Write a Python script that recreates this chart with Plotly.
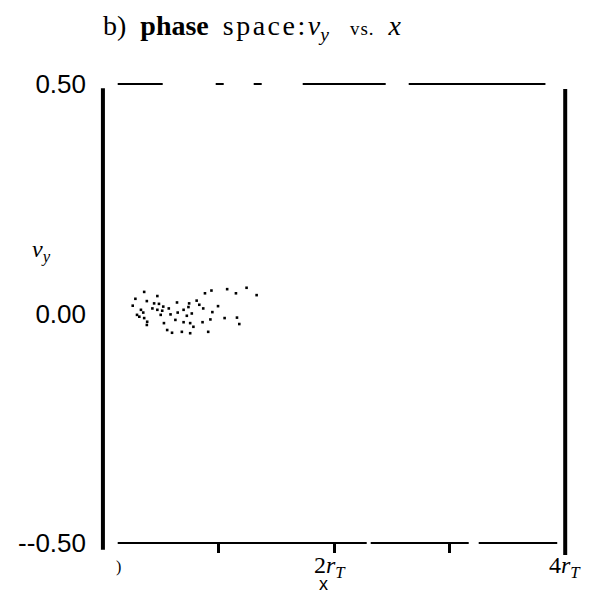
import plotly.graph_objects as go

# Scatter cloud (x in units of r_T, v_y)
x_vals = [0.357, 0.471, 0.281, 0.380, 0.883, 0.939, 1.075, 1.151, 1.243, 1.330,
          0.443, 0.485, 0.522, 0.641, 0.746, 0.811, 0.834, 0.258, 0.329, 0.349,
          0.428, 0.471, 0.513, 0.570, 0.647, 0.698, 0.740, 0.868, 0.996, 0.947,
          0.295, 0.357, 0.500, 0.585, 0.627, 0.726, 0.769, 0.930, 1.053, 1.160,
          1.180, 0.380, 0.528, 0.698, 0.755, 0.862, 0.556, 0.683, 0.755, 0.911,
          0.783, 0.598, 0.383, 0.315]
vy_vals = [0.047, 0.038, 0.032, 0.027, 0.044, 0.050, 0.053, 0.044, 0.056, 0.040,
           0.022, 0.021, 0.015, 0.024, 0.022, 0.028, 0.019, 0.017, 0.008, 0.002,
           0.011, 0.008, 0.006, 0.011, 0.002, 0.008, 0.014, 0.011, 0.016, 0.003,
           -0.003, -0.010, -0.003, -0.002, -0.014, -0.005, 0.000, -0.013, -0.010, -0.009,
           -0.023, -0.025, -0.021, -0.019, -0.021, -0.019, -0.036, -0.040, -0.043, -0.040,
           -0.029, -0.042, -0.018, -0.007]

y_tick_vals = [-0.5, 0.0, 0.5]
y_tick_text = ["--0.50", "0.00", "0.50"]
x_tick_marks = [1, 2, 3]
x_label_vals = [0, 2, 4]
x_label_text = [")", "2<i>r</i><sub><i>T</i></sub>", "4<i>r</i><sub><i>T</i></sub>"]

SERIF = "Liberation Serif, Times New Roman, serif"
SANS = "Liberation Sans, Arial, sans-serif"

fig = go.Figure()
fig.add_trace(go.Scatter(
    x=x_vals, y=vy_vals, mode="markers",
    marker=dict(size=2.6, color="black", symbol="square"),
    showlegend=False, hoverinfo="skip"))

# frame pieces (scanned, broken lines)
fig.add_shape(type="line", xref="x", yref="y", x0=0.128, x1=3.829, y0=0.5, y1=0.5,
              line=dict(color="black", width=2,
                        dash="45px,53px,8px,30px,8px,41px,83px,23px,141px"))
fig.add_shape(type="line", xref="x", yref="y", x0=0.128, x1=3.931, y0=-0.5, y1=-0.5,
              line=dict(color="black", width=2, dash="249px,4px,98px,10px,83px"))
fig.add_shape(type="line", xref="x", yref="y", x0=0, x1=0, y0=-0.515, y1=0.491,
              line=dict(color="black", width=4))
fig.add_shape(type="line", xref="x", yref="y", x0=4, x1=4, y0=-0.526, y1=0.489,
              line=dict(color="black", width=4))

# x tick labels
shifts = [16, -4, 0]
sizes = [16, 24, 24]
for xv, txt, sh, sz in zip(x_label_vals, x_label_text, shifts, sizes):
    fig.add_annotation(x=xv, y=-0.004, xref="x", yref="paper", text=txt,
                       showarrow=False, xanchor="center", yanchor="middle",
                       xshift=sh, font=dict(family=SERIF, size=sz, color="black"))

# axis titles
fig.add_annotation(x=2, y=-0.038, xref="x", yref="paper", text="x", showarrow=False,
                   xshift=-11, xanchor="center", yanchor="middle",
                   font=dict(family=SANS, size=18, color="black"))
fig.add_annotation(x=-0.110, y=0.634, xref="paper", yref="paper",
                   text="<i>v</i><sub><i>y</i></sub>", showarrow=False,
                   xanchor="center", yanchor="middle",
                   font=dict(family=SERIF, size=24, color="black"))

title_text = ("b)\u00a0\u00a0<b>phase</b>\u00a0\u00a0"
              "<span style='letter-spacing:2.5px'>space:</span>"
              "<i>v</i><sub><i>y</i></sub>"
              "\u00a0\u00a0\u00a0<span style='font-size:19px;letter-spacing:1px'>vs.</span>"
              "\u00a0\u00a0<i>x</i>")

fig.update_layout(
    width=582, height=586, autosize=False,
    margin=dict(l=82, r=10, t=62, b=29, pad=0),
    paper_bgcolor="white", plot_bgcolor="white",
    title=dict(text=title_text, x=95 / 582, xanchor="left", xref="container",
               y=0.988, yanchor="top", yref="container",
               font=dict(family=SERIF, size=28, color="black")),
    xaxis=dict(range=[-0.0685, 4.128], showgrid=False, zeroline=False, showline=False,
               tickvals=x_tick_marks, showticklabels=False, ticks="outside",
               ticklen=9, tickwidth=3, tickcolor="black",
               anchor="free", position=0.0444),
    yaxis=dict(range=[-0.548, 0.5305], showgrid=False, zeroline=False, showline=False,
               tickvals=y_tick_vals, ticktext=y_tick_text, ticks="",
               ticklabelstandoff=8,
               tickfont=dict(family=SANS, size=26, color="black")),
)

fig.write_html("out.html")
